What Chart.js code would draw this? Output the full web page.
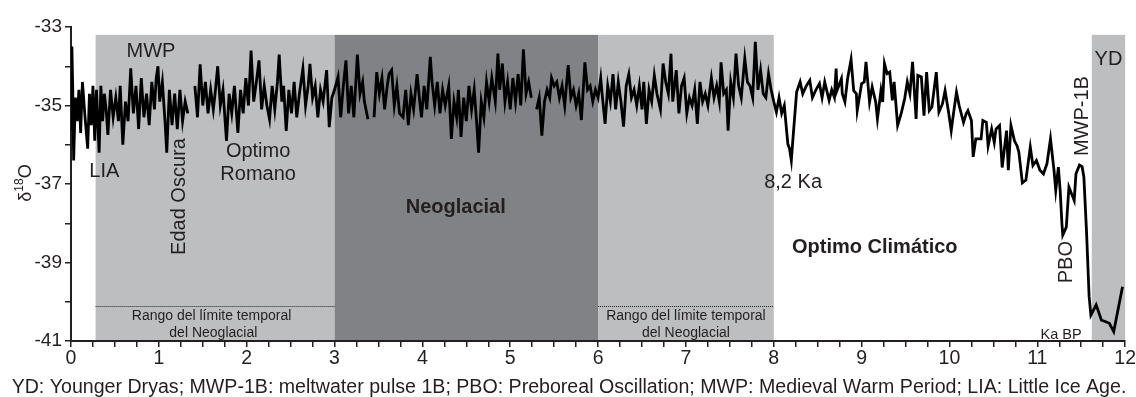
<!DOCTYPE html>
<html>
<head>
<meta charset="utf-8">
<script src="https://cdn.jsdelivr.net/npm/chart.js@4.4.0/dist/chart.umd.min.js"></script>
<style>
  html, body { margin: 0; padding: 0; background: #fff; }
  #wrap { width: 1136px; height: 397px; }
</style>
</head>
<body>
<div id="wrap"><canvas id="chart"></canvas></div>
<script>
// age (ka BP) and d18O
var ageKa = [
  // 0 - 0.4
  0.00,0.01,0.02,0.03,0.05,0.07,0.09,0.11,0.13,0.16,0.19,0.21,0.23,0.25,0.27,0.29,0.32,0.34,0.36,0.38,
  // 0.4 - 1.37
  0.40,0.42,0.45,0.48,0.51,0.54,0.56,0.59,0.62,0.65,0.68,0.71,0.74,0.77,0.80,0.83,0.86,0.89,0.92,0.95,
  0.97,0.99,1.01,1.04,1.07,1.09,1.12,1.15,1.18,1.21,1.24,1.27,1.30,1.33,1.37,
  // 1.41 - 2.97
  1.41,1.44,1.47,1.50,1.53,1.56,1.59,1.62,1.64,1.67,1.70,1.73,1.77,1.80,1.83,1.86,1.90,1.93,1.96,1.99,
  2.02,2.05,2.08,2.11,2.14,2.17,2.20,2.23,2.26,2.29,2.32,2.35,2.37,2.40,2.42,2.45,2.48,2.51,2.54,2.57,
  2.60,2.64,2.67,2.70,2.72,2.75,2.78,2.81,2.84,2.87,2.91,2.94,2.97,
  // 3 - 6 neoglacial
  3.00,3.04,3.07,3.10,3.13,3.16,3.19,3.22,3.26,3.29,3.32,3.34,3.38,3.41,3.45,3.48,3.51,3.54,3.57,3.60,
  3.62,3.65,3.68,3.71,3.74,3.78,3.81,3.84,3.87,3.90,3.94,3.97,3.99,4.02,4.05,4.09,4.11,4.14,4.17,4.20,
  4.23,4.26,4.30,4.33,4.36,4.39,4.41,4.44,4.47,4.50,4.53,4.56,4.59,4.62,4.64,4.67,4.70,4.73,4.76,4.79,
  4.83,4.86,4.88,4.91,4.94,4.97,5.00,5.03,5.06,5.09,5.12,5.15,5.18,5.21,5.24,5.27,5.30,5.33,5.36,5.39,
  5.42,5.45,5.47,5.50,5.53,5.56,5.59,5.62,5.66,5.69,5.72,5.75,5.78,5.81,5.85,5.88,5.91,5.94,5.97,
  // 6 - 8.44
  6.00,6.03,6.05,6.08,6.11,6.14,6.17,6.20,6.23,6.26,6.29,6.32,6.35,6.38,6.41,6.44,6.47,6.50,6.52,6.55,
  6.58,6.61,6.64,6.67,6.71,6.74,6.77,6.80,6.83,6.85,6.89,6.92,6.95,6.98,7.01,7.04,7.07,7.10,7.13,7.16,
  7.19,7.22,7.25,7.29,7.32,7.35,7.38,7.40,7.43,7.46,7.48,7.51,7.54,7.57,7.60,7.63,7.67,7.70,7.73,7.76,
  7.79,7.82,7.85,7.88,7.91,7.94,7.97,8.00,8.03,8.06,8.09,8.12,8.16,8.18,8.20,8.22,8.26,8.30,8.33,8.37,
  8.41,8.44,
  // 8.48 - 10.77
  8.48,8.52,8.55,8.58,8.63,8.66,8.69,8.71,8.72,8.77,8.78,8.81,8.84,8.88,8.91,8.94,8.95,9.00,9.03,9.05,
  9.09,9.12,9.16,9.18,9.22,9.24,9.26,9.29,9.32,9.35,9.37,9.41,9.45,9.49,9.52,9.55,9.58,9.62,9.64,9.68,
  9.71,9.74,9.77,9.80,9.85,9.88,9.92,9.95,9.99,10.02,10.04,10.08,10.11,10.16,10.19,10.21,10.25,10.27,10.30,10.36,
  10.38,10.42,10.44,10.48,10.51,10.53,10.57,10.60,10.65,10.67,10.70,10.74,10.77,
  // 10.79 - 12
  10.79,10.83,10.87,10.92,10.95,10.99,11.03,11.07,11.11,11.15,11.19,11.21,11.24,11.26,11.28,11.29,11.33,11.36,11.39,11.42,
  11.44,11.48,11.51,11.53,11.56,11.59,11.61,11.67,11.73,11.78,11.82,11.87,11.97
];

var d18O = [
  -35.6,-33.5,-34.6,-36.4,-34.8,-35.4,-34.6,-35.7,-34.4,-35.3,-36.1,-34.7,-35.5,-34.5,-35.9,-34.6,-36.2,-34.5,-35.4,-34.7,

  -35.1,-35.75,-34.6,-35.3,-34.8,-35.4,-34.5,-36.0,-34.9,-35.4,-34.05,-35.2,-34.5,-35.6,-34.3,-35.3,-34.7,-35.5,-34.4,-35.1,
  -34.3,-34.0,-34.9,-34.4,-35.4,-36.2,-34.6,-35.5,-34.7,-35.6,-34.6,-35.4,-34.9,-35.2,null,

  -34.5,-35.3,-33.95,-35.0,-34.4,-35.2,-34.6,-35.1,-34.7,-34.0,-35.0,-34.6,-35.9,-34.7,-35.2,-34.5,-35.7,-34.6,-35.2,-34.3,
  -35.0,-33.6,-34.9,-34.4,-33.85,-35.1,-34.5,-35.0,-35.35,-34.5,-35.1,-34.4,-33.7,-34.9,-34.5,-35.65,-34.6,-35.2,-34.4,-35.3,
  -34.7,-34.06,-35.0,-34.5,-33.94,-34.8,-34.5,-35.3,-34.6,-34.9,-34.1,-35.55,-34.8,

  -34.6,-34.27,-35.3,-34.5,-33.85,-35.2,-34.5,-35.3,-33.7,-34.7,-34.4,-34.9,-35.35,null,-35.3,-34.15,-34.7,-34.3,-35.1,-34.5,
  -34.2,-34.1,-35.0,-34.5,-35.2,-35.3,-34.6,-35.5,-34.7,-35.1,-34.2,-34.9,-35.3,-34.5,-35.1,-33.76,-34.4,-35.0,-34.4,-35.2,
  -34.6,-35.0,-34.5,-35.85,-34.9,-35.3,-34.6,-35.8,-34.8,-35.4,-34.5,-35.1,-34.6,-35.5,-36.2,-34.9,-35.3,-34.4,-34.9,-34.3,
  -34.9,-33.68,-34.6,-33.93,-34.9,-34.4,-35.1,-34.3,-34.9,-34.2,-35.0,-33.57,-34.7,-34.4,-34.8,null,-35.1,-34.8,-35.77,-34.9,
  -34.6,-34.8,-34.3,-34.5,-34.4,-34.8,-34.5,-35.0,-33.97,-34.8,-34.6,-35.0,-34.7,-35.37,-33.9,-34.6,-34.5,-34.9,-34.6,

  -34.8,-34.3,-34.8,-35.47,-34.5,-34.9,-34.2,-35.1,-34.4,-34.9,-35.54,-34.5,-34.2,-34.8,-34.6,-35.0,-34.5,-35.1,-34.4,-35.47,
  -34.6,-34.9,-34.23,-34.7,-35.1,-33.93,-34.4,-34.7,-33.68,-34.9,-34.1,-35.2,-34.5,-34.3,-35.2,-34.8,-35.0,-34.6,-35.47,-34.4,
  -34.9,-34.7,-35.0,-34.3,-34.8,-34.5,-34.9,-33.9,-34.7,-34.6,-35.64,-34.4,-34.8,-33.68,-34.5,-34.8,-33.8,-34.4,-34.5,-34.8,
  -33.38,-34.6,-34.1,-34.7,-34.8,-34.19,-34.6,-34.9,-35.17,-34.8,-35.2,-35.0,-35.98,-36.1,-36.4,-35.8,-34.66,-34.4,-34.7,-34.5,
  -34.36,-34.8,

  -34.6,-34.44,-34.8,-34.4,-34.87,-34.6,-34.79,-34.06,-34.62,-34.32,-34.7,-34.91,-34.32,-33.83,-34.62,-34.7,-35.13,-34.44,-34.4,-33.89,
  -34.91,-34.53,-34.91,-35.34,-34.62,-34.91,-33.93,-34.19,-34.15,-34.87,-34.4,-35.51,-35.21,-34.83,-34.4,-34.7,-33.89,-35.34,-34.23,-34.27,
  -35.26,-34.15,-35.13,-35.04,-34.15,-35.17,-34.96,-34.62,-35.17,-35.64,-35.3,-34.66,-35.0,-35.43,-35.21,-35.13,-35.38,-36.31,-35.85,-35.85,
  -35.38,-35.43,-36.03,-35.6,-35.94,-35.6,-35.51,-36.58,-35.64,-36.65,-35.51,-35.9,-36.03,

  -36.19,-36.97,-36.9,-36.06,-36.53,-36.4,-36.65,-36.74,-36.48,-35.85,-36.65,-37.16,-36.57,-37.16,-38.0,-38.3,-38.1,-37.08,-37.25,-37.42,
  -36.74,-36.52,-36.56,-36.82,-38.2,-39.87,-40.34,-40.08,-40.47,-40.51,-40.55,-40.76,-39.62
];

// shaded periods
var bandFrom = [0.28, 3, 6, 11.62];
var bandTo = [3, 6, 8, 12];
var bandFill = ['#bcbec0', '#808285', '#bcbec0', '#bcbec0'];
var bandTop = -33.2;

// dotted "rango del limite temporal" lines
var rangeFrom = [0.28, 6];
var rangeTo = [3, 8];
var rangeLevel = -40.1;

var notes = [
  { t: 'MWP', x: 0.91, y: -33.62, size: 20 },
  { t: 'LIA', x: 0.38, y: -36.67, size: 20 },
  { t: 'Edad Oscura', x: 1.23, y: -37.32, size: 20, rot: true },
  { t: 'Optimo', x: 2.13, y: -36.18, size: 20 },
  { t: 'Romano', x: 2.13, y: -36.77, size: 20 },
  { t: 'Neoglacial', x: 4.38, y: -37.59, size: 20, bold: true },
  { t: '8,2 Ka', x: 8.22, y: -36.95, size: 20 },
  { t: 'Optimo Climático', x: 9.15, y: -38.63, size: 20, bold: true },
  { t: 'PBO', x: 11.33, y: -38.99, size: 20, rot: true },
  { t: 'MWP-1B', x: 11.51, y: -35.27, size: 20, rot: true },
  { t: 'YD', x: 11.81, y: -33.84, size: 20 },
  { t: 'Ka BP', x: 11.27, y: -40.85, size: 14.5 },
  { t: 'Rango del límite temporal', x: 1.6, y: -40.37, size: 14 },
  { t: 'del Neoglacial', x: 1.62, y: -40.8, size: 14 },
  { t: 'Rango del límite temporal', x: 7.0, y: -40.37, size: 14 },
  { t: 'del Neoglacial', x: 7.0, y: -40.8, size: 14 }
];

var footer = 'YD: Younger Dryas; MWP-1B: meltwater pulse 1B; PBO: Preboreal Oscillation; MWP: Medieval Warm Period; LIA: Little Ice Age.';

var INK = '#231f20';
var FAMILY = '"Liberation Sans", Arial, sans-serif';
Chart.defaults.font.family = FAMILY;
Chart.defaults.color = INK;

var extras = {
  id: 'extras',
  beforeDraw: function (chart) {
    var ctx = chart.ctx, area = chart.chartArea;
    var xs = chart.scales.x, ys = chart.scales.y;
    var top = ys.getPixelForValue(bandTop);
    ctx.save();
    for (var i = 0; i < bandFrom.length; i++) {
      var x1 = xs.getPixelForValue(bandFrom[i]);
      var x2 = xs.getPixelForValue(bandTo[i]);
      ctx.fillStyle = bandFill[i];
      ctx.fillRect(x1, top, x2 - x1, area.bottom - top);
    }
    ctx.strokeStyle = INK;
    ctx.lineWidth = 1;
    ctx.setLineDash([1, 1]);
    var ly = Math.round(ys.getPixelForValue(rangeLevel)) + 0.5;
    for (var j = 0; j < rangeFrom.length; j++) {
      ctx.beginPath();
      ctx.moveTo(xs.getPixelForValue(rangeFrom[j]), ly);
      ctx.lineTo(xs.getPixelForValue(rangeTo[j]), ly);
      ctx.stroke();
    }
    ctx.restore();
  },
  afterDatasetsDraw: function (chart) {
    var ctx = chart.ctx;
    var xs = chart.scales.x, ys = chart.scales.y;
    ctx.save();
    ctx.fillStyle = INK;
    ctx.textAlign = 'center';
    ctx.textBaseline = 'middle';
    notes.forEach(function (n) {
      ctx.font = (n.bold ? 'bold ' : '') + n.size + 'px ' + FAMILY;
      var px = xs.getPixelForValue(n.x), py = ys.getPixelForValue(n.y);
      if (n.rot) {
        ctx.save();
        ctx.translate(px, py);
        ctx.rotate(-Math.PI / 2);
        ctx.fillText(n.t, 0, 0);
        ctx.restore();
      } else {
        ctx.fillText(n.t, px, py);
      }
    });
    ctx.restore();
  },
  afterDraw: function (chart) {
    var ctx = chart.ctx;
    ctx.save();
    ctx.fillStyle = INK;
    // y title: delta 18 O
    ctx.translate(25, 183);
    ctx.rotate(-Math.PI / 2);
    ctx.textBaseline = 'alphabetic';
    ctx.textAlign = 'left';
    ctx.font = '18px ' + FAMILY;
    var wd = ctx.measureText('δ').width;
    ctx.font = '12px ' + FAMILY;
    var w18 = ctx.measureText('18').width;
    ctx.font = '18px ' + FAMILY;
    var wo = ctx.measureText('O').width;
    var sx = -(wd + w18 + wo) / 2;
    ctx.fillText('δ', sx, 6);
    ctx.font = '12px ' + FAMILY;
    ctx.fillText('18', sx + wd, -2);
    ctx.font = '18px ' + FAMILY;
    ctx.fillText('O', sx + wd + w18, 6);
    ctx.restore();

    ctx.save();
    ctx.fillStyle = INK;
    ctx.font = '19.6px ' + FAMILY;
    ctx.textAlign = 'center';
    ctx.textBaseline = 'alphabetic';
    ctx.fillText(footer, 569, 393);
    ctx.restore();
  }
};

var points = ageKa.map(function (a, i) { return { x: a, y: d18O[i] }; });

new Chart(document.getElementById('chart'), {
  type: 'line',
  data: {
    datasets: [{
      data: points,
      borderColor: '#000',
      borderWidth: 2.8,
      pointRadius: 0,
      tension: 0,
      spanGaps: false,
      fill: false
    }]
  },
  options: {
    responsive: true,
    maintainAspectRatio: false,
    animation: false,
    devicePixelRatio: 1,
    layout: { padding: { top: 27, right: 10, left: 0, bottom: 0 } },
    plugins: { legend: { display: false }, tooltip: { enabled: false } },
    scales: {
      x: {
        type: 'linear',
        min: 0,
        max: 12,
        afterFit: function (s) { s.height = 56; },
        border: { color: INK, width: 2 },
        grid: { drawOnChartArea: false, tickLength: 6, color: INK, lineWidth: 1.5 },
        ticks: {
          stepSize: 0.25,
          autoSkip: false,
          maxRotation: 0,
          padding: 0,
          color: INK,
          font: { size: 19.5 },
          callback: function (v) { return Number.isInteger(v) ? String(v) : ''; }
        }
      },
      y: {
        min: -41,
        max: -33,
        afterFit: function (s) { s.width = 71; },
        border: { color: INK, width: 2 },
        grid: { drawOnChartArea: false, tickLength: 6, color: INK, lineWidth: 1.5 },
        ticks: {
          stepSize: 1,
          padding: 3,
          color: INK,
          font: { size: 19 },
          callback: function (v) { return Math.abs(v) % 2 === 1 ? String(v) : ''; }
        }
      }
    }
  },
  plugins: [extras]
});
</script>
</body>
</html>
